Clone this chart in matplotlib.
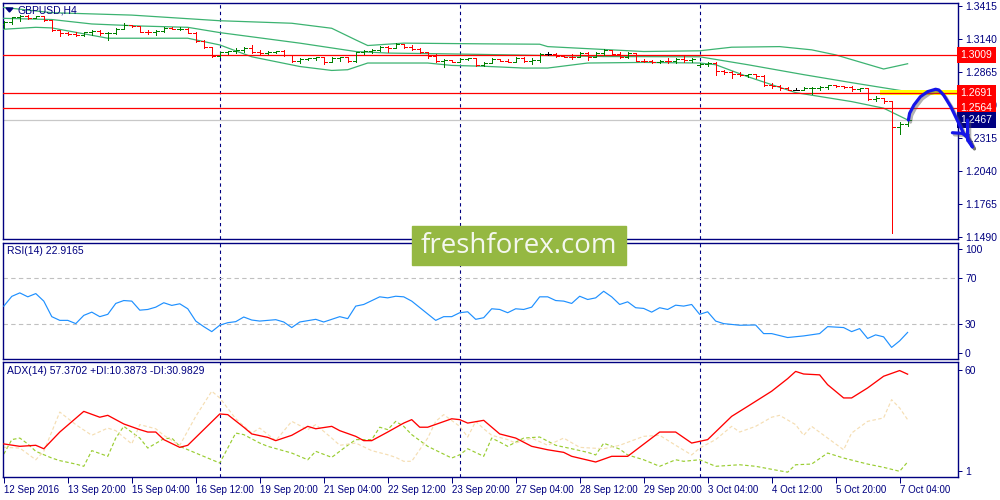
import numpy as np
import matplotlib
matplotlib.use("Agg")
import matplotlib.pyplot as plt
from matplotlib.collections import LineCollection
from matplotlib.patches import Rectangle, Polygon
from matplotlib import patheffects
from matplotlib.transforms import blended_transform_factory

plt.rcParams['font.family'] = ['Liberation Sans', 'DejaVu Sans']

NAVY = '#000080'
W, H = 1000, 500
PX = 0.72  # one pixel in points at 100 dpi

# --- price data (GBPUSD H4, one value per bar) ---
date_labels = ['12 Sep 2016', '13 Sep 20:00', '15 Sep 04:00', '16 Sep 12:00',
               '19 Sep 20:00', '21 Sep 04:00', '22 Sep 12:00', '23 Sep 20:00',
               '27 Sep 04:00', '28 Sep 12:00', '29 Sep 20:00', '3 Oct 04:00',
               '4 Oct 12:00', '5 Oct 20:00', '7 Oct 04:00']

closes = [1.3285, 1.3324, 1.3338, 1.3316, 1.3333, 1.3302, 1.3219, 1.3192, 1.3188, 1.3180,
          1.3200, 1.3213, 1.3192, 1.3197, 1.3230, 1.3263, 1.3252, 1.3205, 1.3200, 1.3213,
          1.3236, 1.3227, 1.3230, 1.3197, 1.3128, 1.3075, 1.3003, 1.3034, 1.3040, 1.3055,
          1.3072, 1.3039, 1.3028, 1.3036, 1.3040, 1.3011, 1.2956, 1.2978, 1.2984, 1.2992,
          1.2948, 1.2981, 1.2992, 1.2956, 1.3034, 1.3045, 1.3053, 1.3078, 1.3072, 1.3100,
          1.3080, 1.3064, 1.3039, 1.3003, 1.2960, 1.2968, 1.2953, 1.2976, 1.2981, 1.2929,
          1.2943, 1.2978, 1.2964, 1.2953, 1.2987, 1.2964, 1.2970, 1.3017, 1.3017, 1.3003,
          1.2997, 1.2994, 1.3026, 1.2997, 1.3026, 1.3053, 1.3020, 1.2992, 1.3026, 1.2964,
          1.2956, 1.2948, 1.2962, 1.2956, 1.2978, 1.2970, 1.2976, 1.2937, 1.2942, 1.2873,
          1.2865, 1.2854, 1.2842, 1.2848, 1.2831, 1.2763, 1.2754, 1.2735, 1.2721, 1.2721,
          1.2735, 1.2738, 1.2743, 1.2757, 1.2748, 1.2743, 1.2727, 1.2732, 1.2644, 1.2652,
          1.2624, 1.2406, 1.2431, 1.2467]

highs = [1.3294, 1.3329, 1.3343, 1.3341, 1.3338, 1.3335, 1.3302, 1.3219, 1.3205, 1.3200,
         1.3202, 1.3219, 1.3219, 1.3205, 1.3233, 1.3275, 1.3260, 1.3252, 1.3219, 1.3219,
         1.3241, 1.3246, 1.3241, 1.3238, 1.3205, 1.3136, 1.3080, 1.3039, 1.3045, 1.3067,
         1.3080, 1.3094, 1.3053, 1.3047, 1.3045, 1.3053, 1.3011, 1.2984, 1.2989, 1.2997,
         1.2997, 1.2992, 1.2997, 1.2989, 1.3039, 1.3053, 1.3059, 1.3086, 1.3086, 1.3114,
         1.3103, 1.3094, 1.3067, 1.3039, 1.3020, 1.2976, 1.2970, 1.2984, 1.2989, 1.2984,
         1.2948, 1.2984, 1.2978, 1.2976, 1.2992, 1.2997, 1.2984, 1.3026, 1.3031, 1.3026,
         1.3011, 1.3017, 1.3031, 1.3031, 1.3031, 1.3059, 1.3053, 1.3031, 1.3031, 1.3011,
         1.2978, 1.2970, 1.2970, 1.2984, 1.2984, 1.3011, 1.2984, 1.2943, 1.2948, 1.2948,
         1.2887, 1.2873, 1.2865, 1.2854, 1.2854, 1.2845, 1.2777, 1.2763, 1.2743, 1.2735,
         1.2743, 1.2743, 1.2748, 1.2763, 1.2760, 1.2754, 1.2748, 1.2735, 1.2735, 1.2665,
         1.2652, 1.2625, 1.2447, 1.2482]

lows = [1.3233, 1.3269, 1.3296, 1.3313, 1.3316, 1.3296, 1.3213, 1.3169, 1.3177, 1.3169,
        1.3169, 1.3180, 1.3175, 1.3136, 1.3183, 1.3233, 1.3246, 1.3200, 1.3183, 1.3177,
        1.3205, 1.3225, 1.3219, 1.3192, 1.3122, 1.3067, 1.2992, 1.2992, 1.3017, 1.3026,
        1.3031, 1.3026, 1.3020, 1.3020, 1.3026, 1.3003, 1.2948, 1.2943, 1.2970, 1.2970,
        1.2937, 1.2951, 1.2964, 1.2948, 1.2948, 1.3020, 1.3026, 1.3047, 1.3039, 1.3067,
        1.3067, 1.3053, 1.3026, 1.2984, 1.2948, 1.2909, 1.2948, 1.2956, 1.2970, 1.2920,
        1.2914, 1.2943, 1.2956, 1.2948, 1.2948, 1.2951, 1.2937, 1.2948, 1.3009, 1.2992,
        1.2992, 1.2978, 1.2992, 1.2970, 1.3003, 1.3011, 1.3011, 1.2984, 1.2984, 1.2956,
        1.2948, 1.2943, 1.2943, 1.2943, 1.2943, 1.2948, 1.2948, 1.2914, 1.2920, 1.2845,
        1.2854, 1.2818, 1.2837, 1.2826, 1.2818, 1.2748, 1.2735, 1.2715, 1.2715, 1.2715,
        1.2721, 1.2688, 1.2715, 1.2727, 1.2743, 1.2735, 1.2707, 1.2707, 1.2638, 1.2624,
        1.2611, 1.1520, 1.2347, 1.2414]

first_open = 1.3268
monday_gap_bar, monday_gap_open = 87, 1.2925

# Bollinger bands, read at sample bars
bb_up_idx = [0, 6, 16, 27, 36, 41, 44, 45.5, 50, 60, 67, 68, 80, 87, 91, 97, 101, 104, 110, 113]
bb_up = [1.3407, 1.3363, 1.3343, 1.3296, 1.3275, 1.3233, 1.3136, 1.3089, 1.3109, 1.3103,
         1.3100, 1.3080, 1.3039, 1.3045, 1.3075, 1.3080, 1.3053, 1.3011, 1.2893, 1.2937]
bb_mid_idx = [0, 6, 11, 17, 23, 27, 37, 44, 48, 55, 65, 75, 87, 93, 100, 106, 113]
bb_mid = [1.3316, 1.3306, 1.3269, 1.3252, 1.3241, 1.3197, 1.3109, 1.3039, 1.3026, 1.3020,
          1.3009, 1.2997, 1.2995, 1.2929, 1.2846, 1.2779, 1.2704]
bb_lo_idx = [0, 4, 6, 13, 23, 27, 31, 37, 41, 43, 45.5, 53, 56, 60, 65, 68, 73, 80, 87, 89,
             93, 99, 106, 110, 113]
bb_lo = [1.3225, 1.3241, 1.3236, 1.3150, 1.3150, 1.3094, 1.2995, 1.2914, 1.2881, 1.2887,
         1.2943, 1.2943, 1.2923, 1.2916, 1.2901, 1.2901, 1.2943, 1.2948, 1.2943, 1.2929,
         1.2829, 1.2696, 1.2621, 1.2566, 1.2468]

hlines_red = [1.3009, 1.2691, 1.2564]
bid_price = 1.2467
zone_lo, zone_hi, zone_start = 1.2674, 1.2716, 109.5

# hand drawn forecast arrow (bar index, price)
arrow_x = [113.1, 113.25, 113.8, 114.6, 115.5, 116.5, 116.9, 117.5, 118.4, 119.2, 120.0, 120.7, 121.1]
arrow_y = [1.2467, 1.2523, 1.2593, 1.2662, 1.2704, 1.2724, 1.2718, 1.2676, 1.2578, 1.2467,
           1.2356, 1.2300, 1.2244]
barb1_x = [118.6, 119.8, 120.5, 121.1]
barb1_y = [1.2361, 1.2356, 1.2328, 1.2244]
barb2_x = [120.5, 120.5, 121.1]
barb2_y = [1.2467, 1.2300, 1.2244]

# --- RSI(14) ---
rsi_idx = [0, 1, 2, 3, 4, 5, 6, 7, 8, 9, 10, 11, 12, 13, 14, 15, 16, 17, 18, 19, 20, 21, 22,
           23, 24, 25, 26, 27, 28, 29, 30, 31, 32, 34, 35, 36, 37, 39, 40, 42, 43, 44, 45,
           47, 48, 49, 50, 51, 54, 55, 56, 57, 58, 59, 60, 61, 62, 63, 64, 65, 66, 67, 68,
           69, 70, 71, 72, 73, 74, 75, 76, 77, 78, 79, 80, 81, 82, 83, 84, 85, 86, 87, 88,
           89, 90, 92, 94, 95, 96, 98, 100, 102, 103, 105, 106, 107, 108, 109, 110, 111, 112, 113]
rsi_val = [45.6, 54, 57, 53.6, 56.4, 49.9, 36.5, 33.3, 33.3, 30.5, 37.6, 40.4, 36.5, 38.5,
           47.9, 50.4, 49.9, 42.1, 42.7, 44.7, 48.5, 46.2, 47.6, 43.3, 32.7, 27.9, 23.6, 29.1,
           31.3, 32.2, 36.2, 33.6, 32.7, 33.9, 31.9, 27.1, 31.9, 34.2, 31.9, 36.5, 34.8, 45.6,
           47, 53.6, 52.7, 54.1, 53.6, 49.9, 33.3, 36.5, 36.5, 39.9, 40.7, 34.2, 35.6, 43.3,
           42.7, 39.9, 43.3, 42.7, 44.7, 53.6, 53.6, 50.4, 49.9, 47.9, 54.1, 51.3, 52.7, 58.4,
           53.6, 47, 49.3, 44.2, 43.6, 40.4, 44.2, 42.7, 46.4, 45.6, 47, 38.5, 40.7, 32.7,
           30.5, 29.1, 29.3, 21.9, 21.9, 18.5, 19.9, 21.9, 27.9, 27.1, 23.6, 26.2, 17.7, 20.8,
           19.1, 10, 15.6, 22.9]

# --- ADX(14) ---
adx_idx = [0, 2, 4, 5, 7, 10, 12, 13, 15, 17, 18, 19, 20, 22, 23, 25, 27, 28, 30, 31, 33, 34,
           36, 38, 39, 41, 42, 44, 45, 46, 48, 50, 51, 52, 53, 56, 57, 58, 60, 62, 64, 66, 68,
           70, 71, 74, 76, 78, 82, 84, 86, 88, 91, 93, 96, 98, 99, 100, 102, 103, 105, 106,
           108, 110, 112, 113]
adx_val = [16.9, 15.5, 16.1, 14.1, 23.8, 35.8, 32.4, 33.5, 28.5, 25.2, 23.8, 23.8, 19.4, 14.9,
           16.1, 25.2, 34.3, 33.9, 26.6, 22.7, 20.7, 18.8, 21.9, 27.1, 25.7, 27.1, 24.6, 21.3,
           18.8, 18.8, 23.8, 29, 31, 26.6, 26.6, 31.5, 31, 29, 30.6, 22.7, 20.3, 15.5, 13.5,
           12, 9.7, 6.4, 9.7, 9.7, 23.8, 23.8, 17.4, 19.4, 32.9, 38.7, 47.5, 54.8, 59, 57.5,
           57, 51.3, 43.6, 43.6, 49.4, 56.2, 59.5, 57.4]
pdi_idx = [0, 1, 2, 3, 4, 6, 7, 9, 10, 11, 13, 14, 15, 17, 18, 20, 21, 22, 24, 27, 29, 30, 32,
           33, 36, 38, 39, 41, 43, 44, 46, 47, 48, 49, 50, 51, 53, 56, 57, 58, 60, 61, 62, 63,
           65, 67, 69, 71, 73, 74, 75, 77, 78, 80, 82, 84, 85, 87, 89, 92, 94, 97, 98, 99,
           101, 103, 105, 108, 110, 112, 113]
pdi_val = [11, 19.4, 20.3, 16.9, 12.6, 8.7, 7.2, 5.2, 3.9, 13, 9.7, 20.3, 27.1, 20.3, 14.5,
           19.9, 20.3, 15.5, 11.6, 5.8, 23.2, 22.3, 17.4, 15.5, 11.6, 7.7, 12.6, 9.1, 16.1,
           19.4, 19.4, 26.6, 25.2, 30, 27.1, 22.3, 15.5, 8.7, 10.6, 14.1, 9.7, 20.3, 18, 15.5,
           20.3, 20.9, 16.1, 14.1, 12, 10.5, 17.3, 13.9, 10.5, 7.7, 3.9, 7.7, 6.8, 7.7, 3.9,
           4.8, 3.9, 1.3, 0.5, 4.8, 5.2, 11.6, 8.7, 5.2, 3.3, 1, 6.4]
mdi_idx = [0, 2, 4, 5, 7, 9, 11, 13, 14, 16, 17, 19, 20, 22, 24, 26, 27, 29, 31, 32, 34, 36,
           38, 39, 41, 42, 44, 46, 48, 49, 50, 51, 53, 54, 55, 57, 58, 59, 60, 61, 63, 64, 66,
           68, 70, 72, 75, 77, 80, 82, 84, 86, 87, 89, 91, 92, 94, 96, 97, 99, 100, 101, 103,
           105, 106, 108, 110, 111, 112, 113]
mdi_val = [14.9, 14.5, 7.7, 12.6, 35.4, 28.1, 21.9, 26.1, 24.6, 16.9, 28.1, 25.7, 21.9, 16.1,
           32.9, 47.5, 43.6, 31.5, 23.2, 26.1, 18.8, 30, 25.2, 28.1, 20.3, 16.1, 17.4, 13,
           10.6, 9.1, 6.8, 6.8, 20.3, 30, 33.9, 27.1, 20.9, 30, 25.7, 21.9, 19.4, 17.4, 20.3,
           16.1, 20.3, 14.9, 14.1, 16.1, 21.3, 21.9, 16.1, 10.5, 14.5, 19.4, 27.1, 23.8, 27.1,
           32.4, 33.5, 28.1, 21.9, 27.1, 20.3, 13.5, 23.2, 30, 32, 42.6, 37.8, 31]

separators = [27, 57, 87]  # Monday 00:00 bars

# ---------------------------------------------------------------
fig = plt.figure(figsize=(10, 5), dpi=100)


def px_axes(x0, y0, x1, y1):
    return fig.add_axes([x0 / W, 1 - y1 / H, (x1 - x0) / W, (y1 - y0) / H])


ax = px_axes(3, 3, 958, 239)
ax_rsi = px_axes(3, 243, 958, 359)
ax_adx = px_axes(3, 362, 958, 477)

XMIN, XMAX = -0.1, 119.3
for a in (ax, ax_rsi, ax_adx):
    a.set_xlim(XMIN, XMAX)
    for s in a.spines.values():
        s.set_color(NAVY)
        s.set_linewidth(1)
    a.yaxis.tick_right()
    a.tick_params(axis='y', colors=NAVY, labelcolor=NAVY, labelsize=7.5,
                  length=3, width=PX, pad=2, direction='out')
    a.tick_params(axis='x', bottom=False, labelbottom=False)
    for sx in separators:
        a.axvline(sx, color=NAVY, lw=PX * 1.1, ls=(0, (3, 3)), zorder=1)

# --- main price window ---
n = len(closes)
opens = [first_open] + closes[:-1]
opens[monday_gap_bar] = monday_gap_open
segs, cols = [], []
tick = 0.38
for i in range(n):
    o, c = opens[i], closes[i]
    hi = max(highs[i], o, c)
    lo = min(lows[i], o, c)
    if c > o:
        col = '#008000'
    elif c < o:
        col = '#FF0000'
    else:
        col = '#000000'
    segs += [[(i, lo), (i, hi)], [(i - tick, o), (i, o)], [(i, c), (i + tick, c)]]
    cols += [col] * 3
ax.add_collection(LineCollection(segs, colors=cols, linewidths=PX, zorder=4, antialiased=False))

for xs, ys in ((bb_up_idx, bb_up), (bb_mid_idx, bb_mid), (bb_lo_idx, bb_lo)):
    ax.plot(xs, ys, color='#3CB371', lw=0.9, zorder=3)

ax.add_patch(Rectangle((zone_start, zone_lo), XMAX - zone_start, zone_hi - zone_lo,
                       color='#FFFF00', zorder=3.5, lw=0))
for p in hlines_red:
    ax.axhline(p, color='#FF0000', lw=0.9, zorder=3.6)
ax.axhline(bid_price, color='#C8C8C8', lw=0.9, zorder=2)

ax.set_ylim(1.1474, 1.3444)
price_ticks = [1.3415, 1.3140, 1.2865, 1.2590, 1.2315, 1.2040, 1.1765, 1.1490]
ax.set_yticks(price_ticks)
ax.set_yticklabels([f'{v:.4f}' for v in price_ticks])

trans = blended_transform_factory(ax.transAxes, ax.transData)
for p in hlines_red + [bid_price]:
    fc = NAVY if p == bid_price else '#FF0000'
    ax.text(1.0025, p, f'{p:.4f}', transform=trans, ha='left', va='center',
            fontsize=7.5, color='white', zorder=10, clip_on=False,
            bbox=dict(boxstyle='square,pad=0.32', fc=fc, ec='none'))

shadow = [patheffects.SimpleLineShadow(offset=(1.5, -1.5), shadow_color='#555555', alpha=0.45),
          patheffects.Normal()]
for xs, ys in ((arrow_x, arrow_y), (barb1_x, barb1_y), (barb2_x, barb2_y)):
    ax.plot(xs, ys, color='#1515E8', lw=2.3, clip_on=False, zorder=20,
            solid_capstyle='round', solid_joinstyle='round', path_effects=shadow)

# --- RSI window ---
ax_rsi.set_ylim(0, 100)
for lvl in (70, 30):
    ax_rsi.axhline(lvl, color='#C0C0C0', lw=PX * 1.1, ls=(0, (4, 3)), zorder=1)
ax_rsi.plot(rsi_idx, rsi_val, color='#1E90FF', lw=0.85, zorder=3)
ax_rsi.set_yticks([5.2, 30, 70, 94.8])
ax_rsi.set_yticklabels(['0', '30', '70', '100'])

# --- ADX window ---
ax_adx.set_ylim(-2.31, 64.47)
ax_adx.plot(pdi_idx, pdi_val, color='#9ACD32', lw=0.85, ls=(0, (3, 2)), zorder=2)
ax_adx.plot(mdi_idx, mdi_val, color='#F5DEB3', lw=0.85, ls=(0, (3, 2)), zorder=2)
ax_adx.plot(adx_idx, adx_val, color='#FF0000', lw=0.95, zorder=3)
ax_adx.set_yticks([1, 60])
ax_adx.set_yticklabels(['1', '60'])

ax_adx.tick_params(axis='x', bottom=True, labelbottom=True, colors=NAVY, labelcolor=NAVY,
                   labelsize=7, length=4, width=PX, pad=2, direction='out')
ax_adx.set_xticks(range(0, 8 * len(date_labels), 8))
ax_adx.set_xticklabels(date_labels)
for lab in ax_adx.get_xticklabels():
    lab.set_horizontalalignment('left')

# --- window captions ---
fig.add_artist(Polygon([[6 / W, 1 - 8 / H], [13 / W, 1 - 8 / H], [9.5 / W, 1 - 12 / H]],
                       closed=True, transform=fig.transFigure, color=NAVY, zorder=12))
fig.text(17 / W, 1 - 10.5 / H, 'GBPUSD,H4', color=NAVY, fontsize=7.5, ha='left', va='center')
fig.text(7 / W, 1 - 251.5 / H, 'RSI(14) 22.9165', color=NAVY, fontsize=7.5, ha='left', va='center')
fig.text(7 / W, 1 - 371.5 / H, 'ADX(14) 57.3702 +DI:10.3873 -DI:30.9829', color=NAVY,
         fontsize=7.5, ha='left', va='center')

# --- watermark ---
fig.add_artist(Rectangle((412 / W, 1 - 265 / H), 214 / W, 39 / H, transform=fig.transFigure,
                         color='#95B842', zorder=15))
fig.text(519 / W, 1 - 246 / H, 'freshforex.com', color='#F4F7EE', fontsize=20,
         family=['Open Sans', 'DejaVu Sans'], ha='center', va='center', zorder=16)

fig.savefig('out.png', dpi=100, facecolor='white')
